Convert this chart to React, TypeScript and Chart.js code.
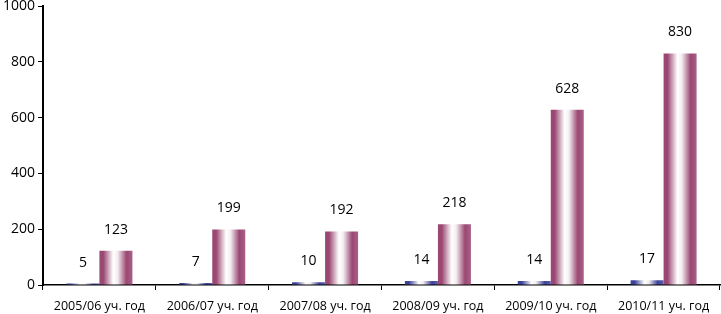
import React, { useEffect, useRef } from "react";
import { Chart, registerables } from "chart.js";

Chart.register(...registerables);

const categories = [
  "2005/06 уч. год",
  "2006/07 уч. год",
  "2007/08 уч. год",
  "2008/09 уч. год",
  "2009/10 уч. год",
  "2010/11 уч. год",
];
const seriesA = [5, 7, 10, 14, 14, 17];
const seriesB = [123, 199, 192, 218, 628, 830];
const yTicks = [0, 200, 400, 600, 800, 1000];

const CAT_PCT = 0.585;
const FONT = "'Open Sans', 'DejaVu Sans', sans-serif";

function makeGradient(ctx: any, dark: string, mid: string) {
  const chart = ctx.chart;
  if (ctx.type !== "data") return dark;
  const xs = chart.scales && chart.scales.x;
  if (!xs || !chart.chartArea) return dark;
  const center = xs.getPixelForValue(ctx.dataIndex);
  const catW = xs.width / categories.length;
  const barW = (catW * CAT_PCT) / 2;
  const left = ctx.datasetIndex === 0 ? center - barW : center;
  const g = chart.ctx.createLinearGradient(left, 0, left + barW, 0);
  g.addColorStop(0, dark);
  g.addColorStop(0.12, dark);
  g.addColorStop(0.42, "#ffffff");
  g.addColorStop(0.55, "#f4eef2");
  g.addColorStop(0.82, dark);
  g.addColorStop(1, mid);
  return g;
}

const valueLabels = {
  id: "valueLabels",
  afterDatasetsDraw(chart: any) {
    const c = chart.ctx;
    c.save();
    c.font = `14px ${FONT}`;
    c.fillStyle = "#000";
    c.textAlign = "center";
    c.textBaseline = "middle";
    chart.data.datasets.forEach((ds: any, di: number) => {
      const meta = chart.getDatasetMeta(di);
      meta.data.forEach((el: any, i: number) => {
        c.fillText(String(ds.data[i]), el.x, el.y - 21);
      });
    });
    c.restore();
  },
};

export default function App() {
  const ref = useRef<HTMLCanvasElement>(null);
  useEffect(() => {
    document.body.style.margin = "0";
    const chart = new Chart(ref.current!, {
      type: "bar",
      data: {
        labels: categories,
        datasets: [
          {
            data: seriesA,
            backgroundColor: (ctx: any) => makeGradient(ctx, "#3c4299", "#5a5fb0"),
            categoryPercentage: CAT_PCT,
            barPercentage: 1,
          },
          {
            data: seriesB,
            backgroundColor: (ctx: any) => makeGradient(ctx, "#9a4872", "#a8608a"),
            categoryPercentage: CAT_PCT,
            barPercentage: 1,
          },
        ],
      },
      options: {
        animation: false,
        responsive: false,
        maintainAspectRatio: false,
        layout: { padding: { top: 6, right: 1, left: 0, bottom: 0 } },
        plugins: { legend: { display: false }, tooltip: { enabled: false } },
        scales: {
          x: {
            offset: true,
            grid: {
              offset: true,
              drawOnChartArea: false,
              drawTicks: true,
              tickLength: 5,
              color: "#000",
              lineWidth: 1,
            },
            border: { color: "#000", width: 1.5 },
            ticks: {
              color: "#000",
              font: { family: FONT, size: 12.5 },
              maxRotation: 0,
              autoSkip: false,
              padding: 9,
            },
            afterFit: (s: any) => {
              s.height = 29;
              s.paddingLeft = 0;
              s.paddingRight = 0;
            },
          },
          y: {
            min: 0,
            max: 1000,
            afterBuildTicks: (s: any) => {
              s.ticks = yTicks.map((v) => ({ value: v }));
            },
            grid: {
              drawOnChartArea: false,
              drawTicks: true,
              tickLength: 5,
              color: "#000",
              lineWidth: 1,
            },
            border: { color: "#000", width: 2 },
            ticks: {
              color: "#000",
              font: { family: FONT, size: 14 },
              padding: 3,
              callback: (v: any) => String(v),
            },
            afterFit: (s: any) => {
              s.width = 43;
              s.paddingTop = 0;
              s.paddingBottom = 0;
            },
          },
        },
      },
      plugins: [valueLabels],
    });
    return () => chart.destroy();
  }, []);
  return (
    <div style={{ position: "absolute", left: 0, top: 0, width: 721, height: 314, background: "#fff" }}>
      <canvas ref={ref} width={721} height={314} style={{ width: 721, height: 314 }} />
    </div>
  );
}
